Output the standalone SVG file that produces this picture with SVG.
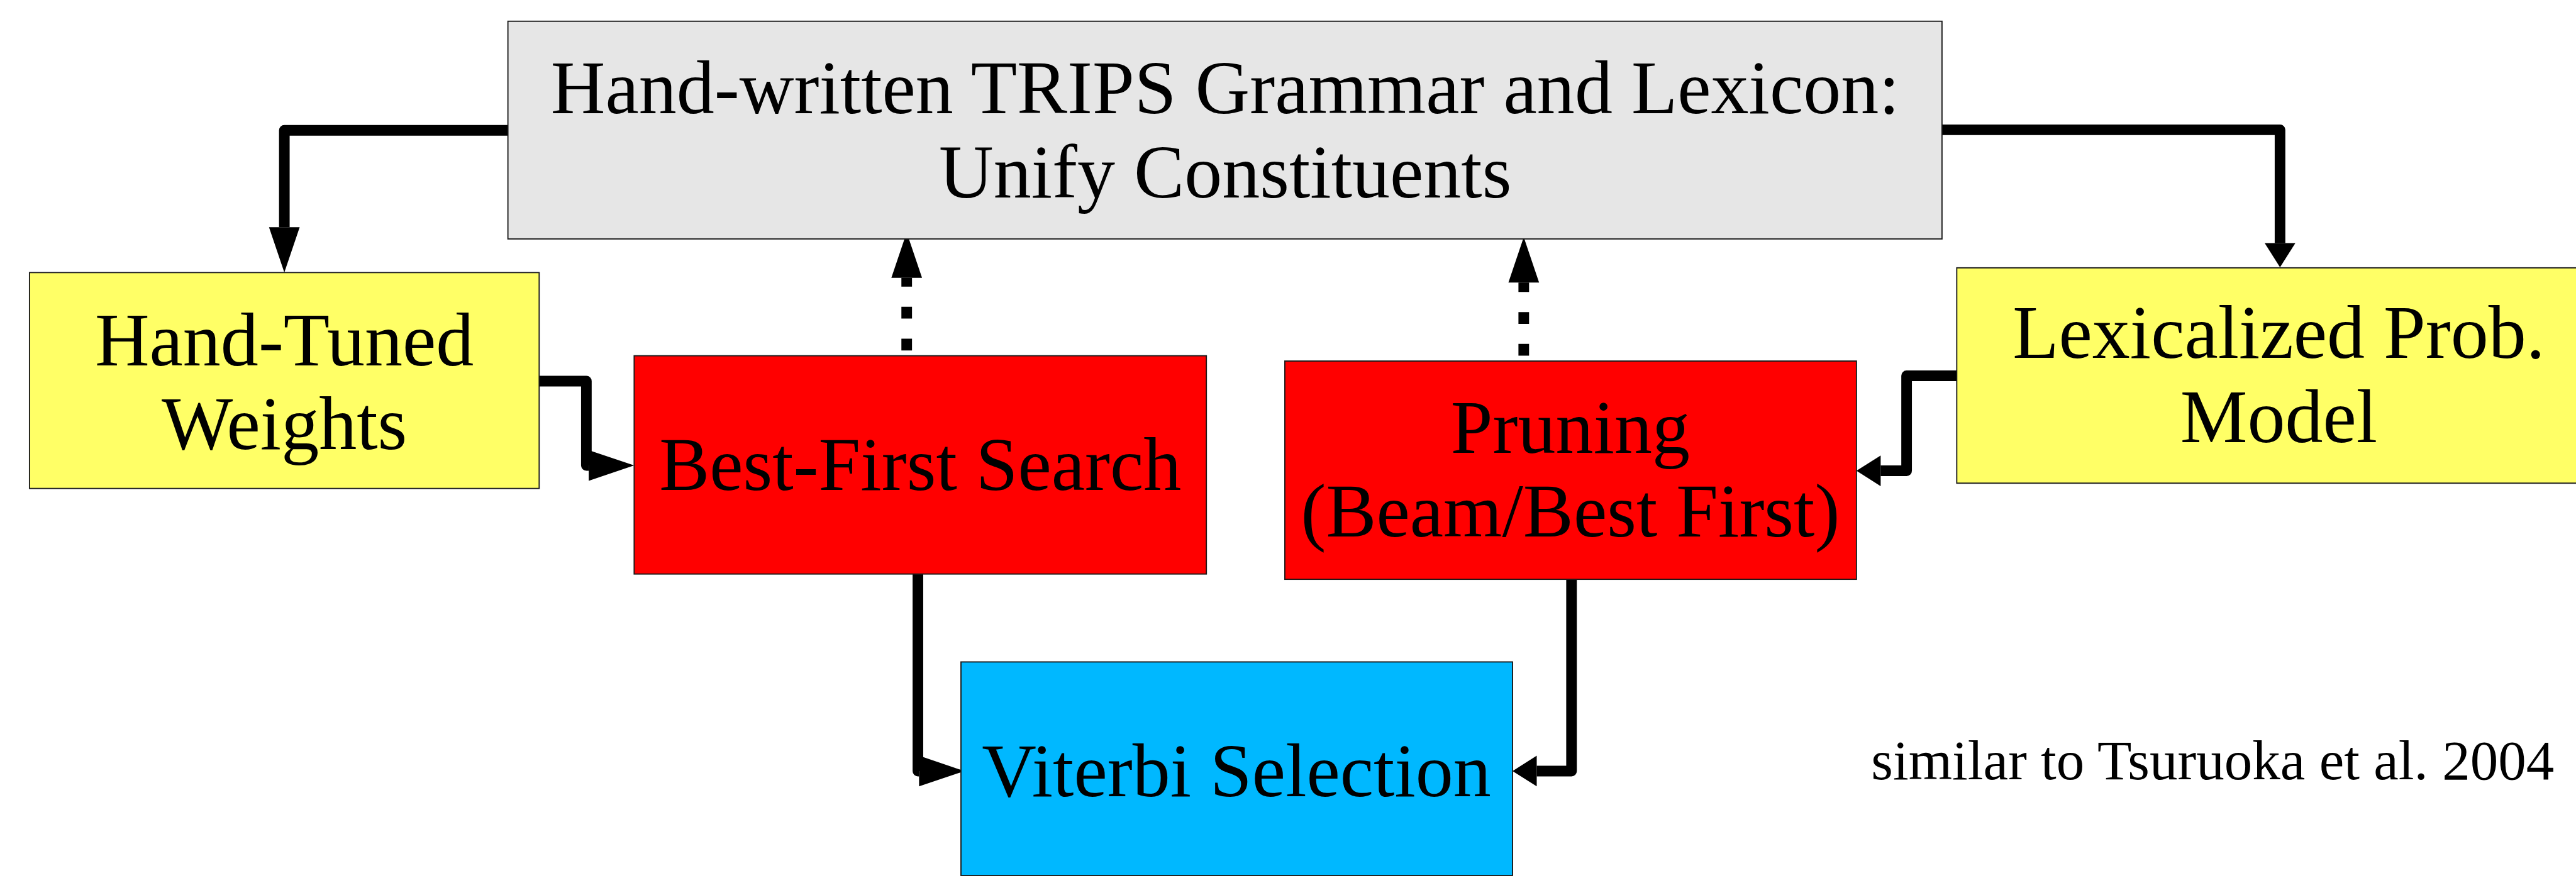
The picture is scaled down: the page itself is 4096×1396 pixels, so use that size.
<svg xmlns="http://www.w3.org/2000/svg" width="4096" height="1396" viewBox="0 0 4096 1396">
  <style>
    .box { stroke: #1a1a1a; stroke-width: 2; }
    .grey { fill: #e6e6e6; }
    .yellow { fill: #ffff66; }
    .red { fill: #ff0000; }
    .blue { fill: #00b8ff; }
    .lbl { font-family: "Liberation Serif", "Times New Roman", serif; font-size: 128px; fill: #000; text-anchor: middle; }
    .note { font-family: "Liberation Serif", "Times New Roman", serif; font-size: 95px; fill: #000; }
    .wire { fill: none; stroke: #000; stroke-width: 18; stroke-linejoin: round; }
    .dash { stroke-dasharray: 20 34; }
  </style>
  <defs>
    <marker id="headLong" markerUnits="userSpaceOnUse" markerWidth="80" markerHeight="54" refX="0" refY="26" orient="auto" overflow="visible">
      <path d="M0,0 L77,26 L0,52 Z" fill="#000"/>
    </marker>
    <marker id="headShort" markerUnits="userSpaceOnUse" markerWidth="44" markerHeight="54" refX="0" refY="26" orient="auto" overflow="visible">
      <path d="M0,0 L41,26 L0,52 Z" fill="#000"/>
    </marker>
  </defs>
  <rect width="4096" height="1396" fill="#ffffff"/>
  <g transform="scale(0.938)">
    <g id="connectors">
      <path class="wire" d="M861,221 H482 V385" marker-end="url(#headLong)"/>
      <path class="wire" d="M3292,220 H3865 V412" marker-end="url(#headShort)"/>
      <path class="wire" d="M914,646 H994 V789 H998" marker-end="url(#headLong)"/>
      <path class="wire" d="M3317,637 H3232 V798 H3188" marker-end="url(#headShort)"/>
      <path class="wire" d="M1556,973 V1307 H1558" marker-end="url(#headLong)"/>
      <path class="wire" d="M2664,982 V1307 H2605" marker-end="url(#headShort)"/>
      <path class="wire dash" d="M1537,594 V471" marker-end="url(#headLong)"/>
      <path class="wire dash" d="M2583,603 V479" marker-end="url(#headLong)"/>
    </g>
    <g id="grammar">
      <rect class="box grey" x="861" y="36" width="2431" height="369"/>
      <text class="lbl" x="2077" y="192">Hand-written TRIPS Grammar and Lexicon:</text>
      <text class="lbl" x="2077" y="335">Unify Constituents</text>
    </g>
    <g id="weights">
      <rect class="box yellow" x="50" y="462" width="864" height="366"/>
      <text class="lbl" x="482" y="619">Hand-Tuned</text>
      <text class="lbl" x="482" y="761">Weights</text>
    </g>
    <g id="lexmodel">
      <rect class="box yellow" x="3317" y="454" width="1092" height="365"/>
      <text class="lbl" x="3863" y="607">Lexicalized Prob.</text>
      <text class="lbl" x="3863" y="749">Model</text>
    </g>
    <g id="bestfirst">
      <rect class="box red" x="1075" y="603" width="970" height="370"/>
      <text class="lbl" x="1560" y="830">Best-First Search</text>
    </g>
    <g id="pruning">
      <rect class="box red" x="2178" y="612" width="969" height="370"/>
      <text class="lbl" x="2662" y="768">Pruning</text>
      <text class="lbl" x="2662" y="909">(Beam/Best First)</text>
    </g>
    <g id="viterbi">
      <rect class="box blue" x="1629" y="1122" width="935" height="362"/>
      <text class="lbl" x="2096" y="1350">Viterbi Selection</text>
    </g>
    <text class="note" x="3172" y="1321">similar to Tsuruoka et al. 2004</text>
  </g>
</svg>
